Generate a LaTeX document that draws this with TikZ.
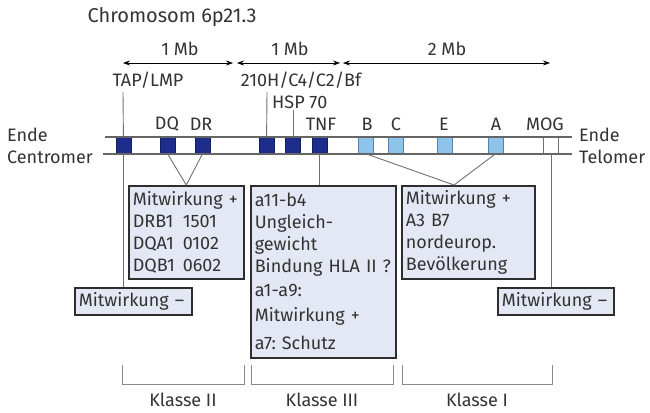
\documentclass[tikz,border=0pt]{standalone}
\usepackage{fontspec}
\setmainfont{Fira Sans}
\frenchspacing
\usetikzlibrary{arrows.meta}
\definecolor{txt}{HTML}{333333}
\definecolor{navy}{HTML}{1E2C8C}
\definecolor{navyedge}{HTML}{141E60}
\definecolor{lblue}{HTML}{8EC3EA}
\definecolor{lblueedge}{HTML}{5A82A8}
\definecolor{boxfill}{HTML}{E3E8F4}
\definecolor{boxline}{HTML}{2E2E2E}
\definecolor{conngray}{HTML}{707070}
\definecolor{brkgray}{HTML}{8A8A8A}
\begin{document}
\begin{tikzpicture}[x=1pt,y=-1pt,
  lbl/.style={text=txt, font=\fontsize{18}{20}\selectfont\frenchspacing, inner sep=0pt},
  boxtxt/.style={draw=boxline, line width=1.6pt, fill=boxfill, text=txt,
     font=\fontsize{18}{22}\selectfont\frenchspacing, align=left, anchor=north west,
     inner xsep=4pt, inner ysep=0pt},
  conn/.style={draw=conngray, line width=0.9pt},
  barline/.style={draw=conngray!90!black, line width=1.1pt},
  gene/.style={draw=navyedge, fill=navy, line width=0.6pt, minimum width=15pt, minimum height=16pt, inner sep=0pt},
  lgene/.style={draw=lblueedge, fill=lblue, line width=0.6pt, minimum width=15pt, minimum height=16pt, inner sep=0pt},
  arr/.style={draw=black, line width=0.7pt, {Stealth[length=7pt,width=5pt]}-{Stealth[length=7pt,width=5pt]}},
  brk/.style={draw=brkgray, line width=1pt}
]
\useasboundingbox (0,0) rectangle (650,412);

% title
\node[lbl, font=\fontsize{20}{22}\selectfont] (title) at (172,17) {Chromosom 6p21.3};

% scale arrows
\coordinate (a1l) at (123,63); \coordinate (a1r) at (233,63);
\coordinate (a2l) at (237,63); \coordinate (a2r) at (340,63);
\coordinate (a3l) at (343,63); \coordinate (a3r) at (550,63);
\draw[arr] (a1l) -- (a1r);
\draw[arr] (a2l) -- (a2r);
\draw[arr] (a3l) -- (a3r);
\node[lbl] (mb1) at (180,49) {1 Mb};
\node[lbl] (mb2) at (290,49) {1 Mb};
\node[lbl] (mb3) at (447,49) {2 Mb};

% upper labels
\node[lbl] (tap) at (148,80) {TAP/LMP};
\node[lbl] (c210) at (301,80) {210H/C4/C2/Bf};
\node[lbl,anchor=west] (hsp) at (272,102) {HSP 70};
\node[lbl] (ldq) at (167,124) {DQ};
\node[lbl] (ldr) at (201,124) {DR};
\node[lbl] (ltnf) at (321,124) {TNF};
\node[lbl] (lb) at (367,124) {B};
\node[lbl] (lc) at (396,124) {C};
\node[lbl] (le) at (444,124) {E};
\node[lbl] (la) at (496,124) {A};
\node[lbl] (lmog) at (545,124) {MOG};

\node[lbl,anchor=west] (endl) at (7,135) {Ende};
\node[lbl,anchor=west] (centro) at (7,157) {Centromer};
\node[lbl,anchor=west] (endr) at (579,135) {Ende};
\node[lbl,anchor=west] (telo) at (579,157) {Telomer};

% boxes
\node[boxtxt, minimum width=115pt, minimum height=93pt, text width=107pt] (b1) at (128,185)
  {Mitwirkung~+\\\makebox[50pt][l]{DRB1}1501\\\makebox[50pt][l]{DQA1}0102\\\makebox[50pt][l]{DQB1}0602};
\node[boxtxt, minimum width=145pt, minimum height=172pt, text width=137pt] (b2) at (250,185)
  {a11-b4\\Ungleich-\\gewicht\\Bindung HLA~II~?\\[2pt]a1-a9:\\[3pt]Mitwirkung~+\\[6pt]a7: Schutz};
\node[boxtxt, minimum width=133pt, minimum height=93pt, text width=125pt] (b3) at (401,185)
  {Mitwirkung~+\\A3 B7\\nordeurop.\\Bevölkerung};
\node[boxtxt, minimum width=117pt, minimum height=27pt, text width=109pt] (m1) at (74,287)
  {Mitwirkung~–};
\node[boxtxt, minimum width=116pt, minimum height=27pt, text width=108pt] (m2) at (497,287)
  {Mitwirkung~–};

% gene coordinates
\coordinate (p1) at (123.5,145.5);
\coordinate (p2) at (167.5,145.5);
\coordinate (p3) at (202.5,145.5);
\coordinate (p4) at (266.5,145.5);
\coordinate (p5) at (293,145.5);
\coordinate (p6) at (319.5,145.5);
\coordinate (tapt) at (123,92);
\coordinate (c210t) at (267,92);
\coordinate (hspt) at (293,110);
\coordinate (mogc) at (551,154);
\coordinate (ap3) at (454,185);

% connectors behind the bar
\draw[conn] (tapt) -- (p1) -- (p1 |- m1.north);
\draw[conn] (c210t) -- (p4);
\draw[conn] (hspt) -- (p5);

% chromosome bar
\fill[white] (105,137) rectangle (572,154);
\node[gene] (g1) at (p1) {};
\node[gene] (g2) at (p2) {};
\node[gene] (g3) at (p3) {};
\node[gene] (g4) at (p4) {};
\node[gene] (g5) at (p5) {};
\node[gene] (g6) at (p6) {};
\node[lgene] (l1) at (366,145.5) {};
\node[lgene] (l2) at (396,145.5) {};
\node[lgene] (l3) at (444.5,145.5) {};
\node[lgene] (l4) at (495.5,145.5) {};
\draw[conn] (543,137) -- (543,154);
\draw[conn] (558,137) -- (558,154);
\draw[barline] (105,137) -- (572,137);
\draw[barline] (103,154) -- (572,154);

% connectors below the bar
\draw[conn] (g2.south) -- (b1.north) -- (g3.south);
\draw[conn] (g6.south) -- (g6.south |- b2.north);
\draw[conn] (l1.south) -- (ap3) -- (l4.south);
\draw[conn] (mogc) -- (mogc |- m2.north);

% class brackets
\draw[brk] (122,365) -- (122,384) -- (244,384) -- (244,365);
\draw[brk] (251,365) -- (251,384) -- (393,384) -- (393,365);
\draw[brk] (402,365) -- (402,384) -- (552,384) -- (552,365);
\node[lbl] (k2) at (183,400) {Klasse II};
\node[lbl] (k3) at (322,400) {Klasse III};
\node[lbl] (k1) at (477,400) {Klasse I};
\end{tikzpicture}
\end{document}
